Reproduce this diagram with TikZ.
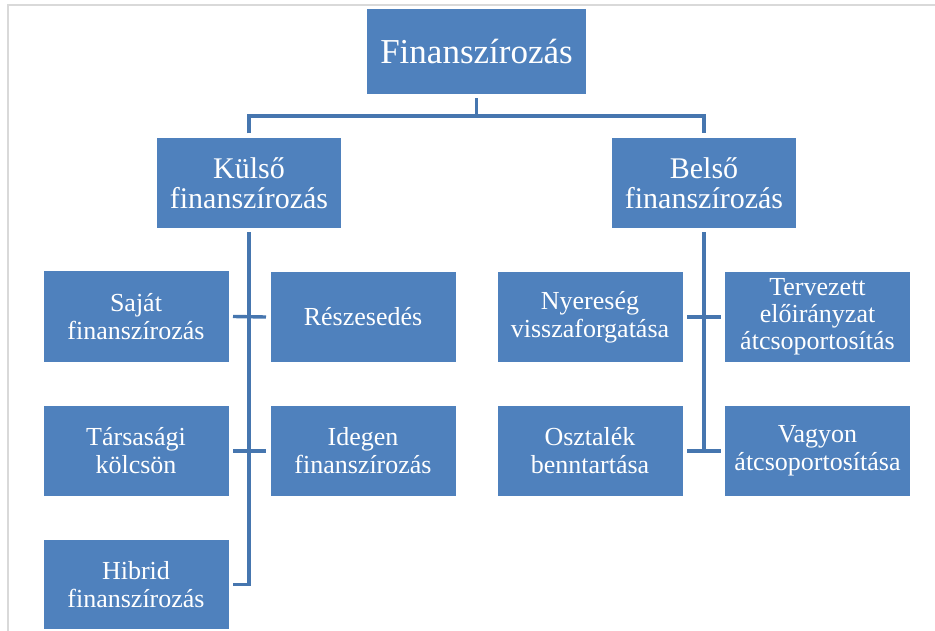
\documentclass[tikz,border=0pt]{standalone}
\usepackage{fontspec}
\setmainfont{Liberation Serif}
\definecolor{boxblue}{RGB}{79,129,189}
\definecolor{linkblue}{RGB}{70,118,175}

\begin{document}
\begin{tikzpicture}[x=1pt,y=-1pt,line width=3.4pt,
  box/.style={fill=boxblue,text=white,align=center,inner sep=0pt,outer sep=4.5pt,minimum width=185pt,minimum height=90pt,font=\fontsize{26}{28}\selectfont},
  midbox/.style={box,minimum width=184pt,font=\fontsize{30}{30}\selectfont},
  rootbox/.style={box,minimum width=219pt,minimum height=85pt,font=\fontsize{35}{40}\selectfont},
  link/.style={draw=linkblue}]
\useasboundingbox (0,0) rectangle (935,631);
\draw[gray!30,line width=1.5pt] (935,5) -- (8,5) -- (8,631);
% levels
\node[rootbox] (root) at (476.5,51.5) {Finanszírozás};
\node[midbox] (kul) at (249,183) {Külső\\finanszírozás};
\node[midbox] (bel) at (704,183) {Belső\\finanszírozás};
\node[box] (k1) at (136,316.5) {Saját\\finanszírozás};
\node[box] (k2) at (363,317) {Részesedés};
\node[box] (k3) at (136,451) {Társasági\\kölcsön};
\node[box] (k4) at (363,451) {Idegen\\finanszírozás};
\node[box,minimum height=89pt] (k5) at (136,584.5) {Hibrid\\finanszírozás};
\node[box] (b1) at (590,317) {Nyereség\\visszaforgatása};
\node[box,font=\fontsize{26}{27}\selectfont] (b2) at (817.5,317) {Tervezett\\előirányzat\\átcsoportosítás};
\node[box] (b3) at (590,451) {Osztalék\\benntartása};
\node[box] (b4) at (817.5,451) {Vagyon\\átcsoportosítása};
% links
\coordinate (j) at (476.5,116);
\draw[link] (root.south) -- (j);
\draw[link] (kul.north) |- (j) -| (bel.north);
\draw[link] (kul.south) |- (k5.east);
\draw[link] (bel.south) -- (bel.south |- b3.east);
\foreach \a/\b in {k1/k2,k3/k4,b1/b2,b3/b4}{\draw[link] (\a.east) -- (\b.west);};
\end{tikzpicture}
\end{document}
